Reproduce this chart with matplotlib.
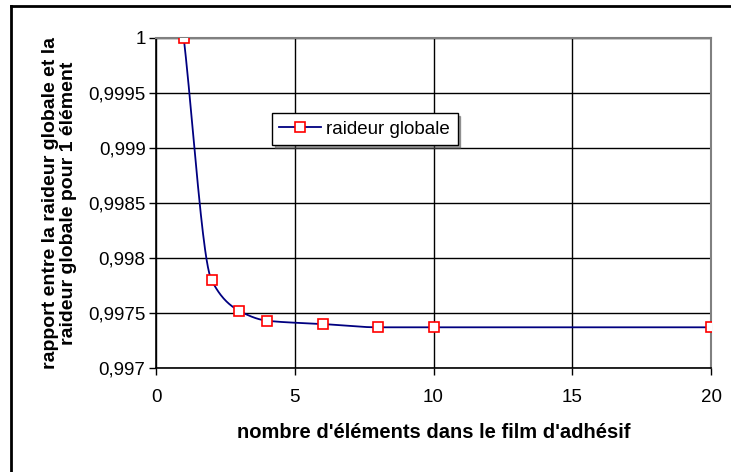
import numpy as np
import matplotlib
matplotlib.use("Agg")
import matplotlib.pyplot as plt
from matplotlib.lines import Line2D
from matplotlib.ticker import FuncFormatter

plt.rcParams["font.family"] = ["Liberation Sans", "DejaVu Sans"]

# nombre d'elements et rapport de raideur
n_elements = [1, 2, 3, 4, 6, 8, 10, 20]
rapport = [1.0, 0.9978, 0.99752, 0.99743, 0.9974, 0.99737, 0.99737, 0.99737]
serie_label = "raideur globale"
x_ticks = [0, 5, 10, 15, 20]
y_ticks = [0.997, 0.9975, 0.998, 0.9985, 0.999, 0.9995, 1.0]


def smooth(x, y, steps=40):
    # courbe lissee monotone (Fritsch-Carlson) entre les points
    x = np.asarray(x, float)
    y = np.asarray(y, float)
    h = np.diff(x)
    d = np.diff(y) / h
    m = np.zeros_like(y)
    m[0], m[-1] = d[0], d[-1]
    for i in range(1, len(x) - 1):
        if d[i - 1] * d[i] > 0:
            w1 = 2 * h[i] + h[i - 1]
            w2 = h[i] + 2 * h[i - 1]
            m[i] = (w1 + w2) / (w1 / d[i - 1] + w2 / d[i])
    xs, ys = [], []
    t = np.linspace(0, 1, steps)
    for i in range(len(x) - 1):
        h00 = 2 * t ** 3 - 3 * t ** 2 + 1
        h10 = t ** 3 - 2 * t ** 2 + t
        h01 = -2 * t ** 3 + 3 * t ** 2
        h11 = t ** 3 - t ** 2
        xs.extend(x[i] + t * h[i])
        ys.extend(h00 * y[i] + h10 * h[i] * m[i] + h01 * y[i + 1] + h11 * h[i] * m[i + 1])
    return np.array(xs), np.array(ys)


fig = plt.figure(figsize=(7.31, 4.72), dpi=100)
ax = fig.add_axes([156 / 731, 1 - 368 / 472, 555 / 731, 330 / 472])

sx, sy = smooth(n_elements, rapport)
ax.plot(sx, sy, color="#000080", lw=1.3, zorder=3)
ax.plot(n_elements, rapport, ls="none", marker="s", ms=6.5, mfc="white",
        mec="red", mew=1.2, zorder=4)

ax.set_xlim(0, 20)
ax.set_ylim(0.997, 1.0)
ax.set_xticks(x_ticks)
ax.set_yticks(y_ticks)
ax.yaxis.set_major_formatter(FuncFormatter(lambda v, p: ("%g" % round(v, 5)).replace(".", ",")))
ax.tick_params(direction="out", length=5, width=1, labelsize=13.5)
ax.tick_params(axis="y", pad=2.5)
ax.tick_params(axis="x", pad=10)
ax.grid(True, color="black", lw=1)
ax.set_axisbelow(True)
for s in ("top", "right"):
    ax.spines[s].set_color("#808080")
    ax.spines[s].set_linewidth(1.5)
for s in ("left", "bottom"):
    ax.spines[s].set_linewidth(1.2)

ax.set_xlabel("nombre d'éléments dans le film d'adhésif", fontsize=14.5,
              fontweight="bold", labelpad=12)
ax.set_ylabel("rapport entre la raideur globale et la\nraideur globale pour 1 élément",
              fontsize=14, fontweight="bold", labelpad=8, linespacing=1.05)

handle = Line2D([], [], color="#000080", lw=1.3, marker="s", ms=7,
                mfc="white", mec="red", mew=1.2)
leg = ax.legend([handle], [serie_label], loc="upper left",
                bbox_to_anchor=(0.209, 0.773), borderaxespad=0, fontsize=13.5,
                frameon=True, fancybox=False, shadow=True, handlelength=2.2,
                handletextpad=0.3, borderpad=0.4)
leg.get_frame().set_edgecolor("black")
leg.get_frame().set_linewidth(1)

# cadre exterieur (haut et gauche)
fig.add_artist(Line2D([11 / 731, 1.01], [1 - 6 / 472] * 2, color="black", lw=2))
fig.add_artist(Line2D([11 / 731] * 2, [-0.01, 1 - 6 / 472], color="black", lw=2))

fig.savefig("out.png", dpi=100)
